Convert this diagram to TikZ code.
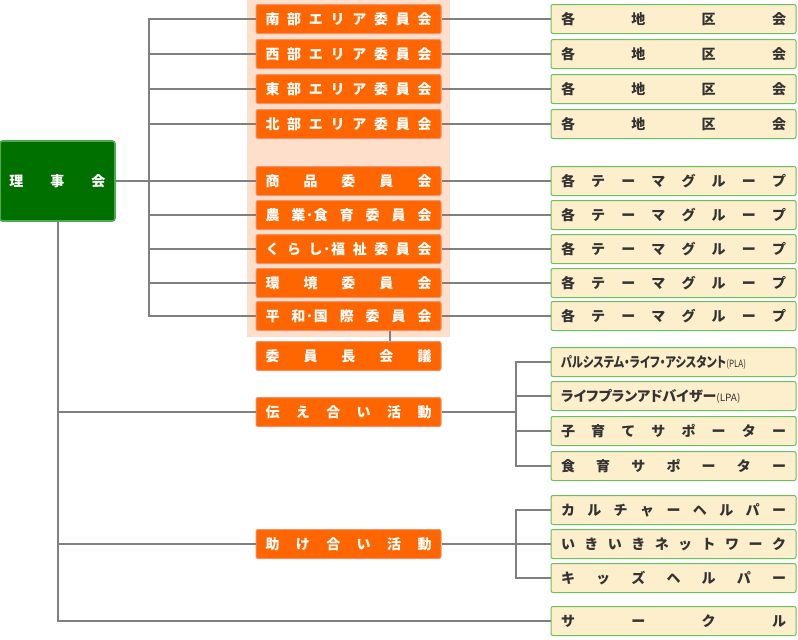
\documentclass[tikz,border=0pt]{standalone}
\usepackage{fontspec}
\setmainfont{Noto Sans CJK JP}
\newfontfamily\jpprop[RawFeature=+palt]{Noto Sans CJK JP}
\definecolor{orng}{HTML}{FF6600}
\definecolor{orngline}{HTML}{F4916A}
\definecolor{peach}{HTML}{FDDFCC}
\definecolor{drkgreen}{HTML}{007000}
\definecolor{grnline}{HTML}{4FA94F}
\definecolor{cream}{HTML}{FDEFCB}
\definecolor{crmline}{HTML}{6ABF5E}
\definecolor{linkgray}{HTML}{808080}
\definecolor{txtgray}{HTML}{333333}
\newcommand\otxt[1]{\makebox[124.5pt][s]{#1}}
\newcommand\ctxt[1]{\makebox[168.75pt][s]{#1}}
\begin{document}
\begin{tikzpicture}[x=0.75pt,y=-0.75pt,
    font=\bfseries\fontsize{10.5}{12}\selectfont,
    orgbox/.style={draw=orngline,line width=0.75pt,fill=orng,text=white,rounded corners=1.5pt,
      minimum width=138.75pt,minimum height=21.75pt,inner sep=0pt},
    crmbox/.style={draw=crmline,line width=0.75pt,fill=cream,text=txtgray,rounded corners=1.5pt,
      minimum width=183.75pt,minimum height=21.75pt,inner sep=0pt},
    link/.style={draw=linkgray,line width=1.5pt}]
    \useasboundingbox (0,0) rectangle (798,639);
    \fill[peach] (247,0) rectangle (450,337);

    \node[draw=grnline,line width=1.2pt,fill=drkgreen,text=white,rounded corners=2pt,
      minimum width=86.25pt,minimum height=60pt,inner sep=0pt] (rijikai) at (57.5,181)
      {\makebox[72pt][s]{理\hfill 事\hfill 会}};

    \node[orgbox] (minami) at (348.5,19) {\otxt{南\hfill 部\hfill エ\hfill リ\hfill ア\hfill 委\hfill 員\hfill 会}};
    \node[orgbox] (nishi) at (348.5,54) {\otxt{西\hfill 部\hfill エ\hfill リ\hfill ア\hfill 委\hfill 員\hfill 会}};
    \node[orgbox] (higashi) at (348.5,89) {\otxt{東\hfill 部\hfill エ\hfill リ\hfill ア\hfill 委\hfill 員\hfill 会}};
    \node[orgbox] (kita) at (348.5,124) {\otxt{北\hfill 部\hfill エ\hfill リ\hfill ア\hfill 委\hfill 員\hfill 会}};
    \node[orgbox] (shohin) at (348.5,181) {\otxt{商\hfill 品\hfill 委\hfill 員\hfill 会}};
    \node[orgbox] (nogyo) at (348.5,215) {\otxt{農\hfill 業·食\hfill 育\hfill 委\hfill 員\hfill 会}};
    \node[orgbox] (kurashi) at (348.5,249) {\otxt{く\hfill ら\hfill し·福\hfill 祉\hfill 委\hfill 員\hfill 会}};
    \node[orgbox] (kankyo) at (348.5,283) {\otxt{環\hfill 境\hfill 委\hfill 員\hfill 会}};
    \node[orgbox] (heiwa) at (348.5,316) {\otxt{平\hfill 和·国\hfill 際\hfill 委\hfill 員\hfill 会}};
    \node[orgbox] (iinchou) at (348.5,356) {\otxt{委\hfill 員\hfill 長\hfill 会\hfill 議}};
    \node[orgbox] (tsutae) at (348.5,412) {\otxt{伝\hfill え\hfill 合\hfill い\hfill 活\hfill 動}};
    \node[orgbox] (tasuke) at (348.5,544) {\otxt{助\hfill け\hfill 合\hfill い\hfill 活\hfill 動}};

    \node[crmbox] (chiku1) at (673.5,19) {\ctxt{各\hfill 地\hfill 区\hfill 会}};
    \node[crmbox] (chiku2) at (673.5,54) {\ctxt{各\hfill 地\hfill 区\hfill 会}};
    \node[crmbox] (chiku3) at (673.5,89) {\ctxt{各\hfill 地\hfill 区\hfill 会}};
    \node[crmbox] (chiku4) at (673.5,124) {\ctxt{各\hfill 地\hfill 区\hfill 会}};
    \node[crmbox] (theme1) at (673.5,181) {\ctxt{各\hfill テ\hfill ー\hfill マ\hfill グ\hfill ル\hfill ー\hfill プ}};
    \node[crmbox] (theme2) at (673.5,215) {\ctxt{各\hfill テ\hfill ー\hfill マ\hfill グ\hfill ル\hfill ー\hfill プ}};
    \node[crmbox] (theme3) at (673.5,249) {\ctxt{各\hfill テ\hfill ー\hfill マ\hfill グ\hfill ル\hfill ー\hfill プ}};
    \node[crmbox] (theme4) at (673.5,283) {\ctxt{各\hfill テ\hfill ー\hfill マ\hfill グ\hfill ル\hfill ー\hfill プ}};
    \node[crmbox] (theme5) at (673.5,316) {\ctxt{各\hfill テ\hfill ー\hfill マ\hfill グ\hfill ル\hfill ー\hfill プ}};
    \node[crmbox] (pla) at (673.5,362) {\ctxt{\scalebox{0.8}[1]{\jpprop パルシステム・ライフ・アシスタント{\mdseries\fontsize{7.5}{8}\selectfont(PLA)}}\hfill}};
    \node[crmbox] (lpa) at (673.5,396) {\ctxt{\jpprop ライフプランアドバイザー{\mdseries\fontsize{7.5}{8}\selectfont(LPA)}\hfill}};
    \node[crmbox] (kosodate) at (673.5,431) {\ctxt{子\hfill 育\hfill て\hfill サ\hfill ポ\hfill ー\hfill タ\hfill ー}};
    \node[crmbox] (shokuiku) at (673.5,466) {\ctxt{食\hfill 育\hfill サ\hfill ポ\hfill ー\hfill タ\hfill ー}};
    \node[crmbox] (culture) at (673.5,510) {\ctxt{カ\hfill ル\hfill チ\hfill ャ\hfill ー\hfill ヘ\hfill ル\hfill パ\hfill ー}};
    \node[crmbox] (ikiiki) at (673.5,544) {\ctxt{い\hfill き\hfill い\hfill き\hfill ネ\hfill ッ\hfill ト\hfill ワ\hfill ー\hfill ク}};
    \node[crmbox] (kids) at (673.5,578) {\ctxt{キ\hfill ッ\hfill ズ\hfill ヘ\hfill ル\hfill パ\hfill ー}};
    \node[crmbox] (circle) at (673.5,621) {\ctxt{サ\hfill ー\hfill ク\hfill ル}};

    \coordinate (tk) at (149,0);
    \coordinate (br) at (516,0);
    \coordinate (lk) at (390,0);

    % left side
    \draw[link] (minami.west) -| (heiwa.west -| tk) -- (heiwa.west);
    \draw[link] (nishi.west -| tk) -- (nishi.west);
    \draw[link] (higashi.west -| tk) -- (higashi.west);
    \draw[link] (kita.west -| tk) -- (kita.west);
    \draw[link] (rijikai.east) -- (shohin.west);
    \draw[link] (nogyo.west -| tk) -- (nogyo.west);
    \draw[link] (kurashi.west -| tk) -- (kurashi.west);
    \draw[link] (kankyo.west -| tk) -- (kankyo.west);
    \draw[link] (rijikai.south) |- (circle.west);
    \draw[link] (rijikai.south |- tsutae.west) -- (tsutae.west);
    \draw[link] (rijikai.south |- tasuke.west) -- (tasuke.west);
    \draw[link] (heiwa.south -| lk) -- (iinchou.north -| lk);

    % right side
    \draw[link] (minami.east) -- (chiku1.west);
    \draw[link] (nishi.east) -- (chiku2.west);
    \draw[link] (higashi.east) -- (chiku3.west);
    \draw[link] (kita.east) -- (chiku4.west);
    \draw[link] (shohin.east) -- (theme1.west);
    \draw[link] (nogyo.east) -- (theme2.west);
    \draw[link] (kurashi.east) -- (theme3.west);
    \draw[link] (kankyo.east) -- (theme4.west);
    \draw[link] (heiwa.east) -- (theme5.west);
    \draw[link] (tsutae.east) -- (tsutae.east -| br);
    \draw[link] (pla.west) -| (shokuiku.west -| br) -- (shokuiku.west);
    \draw[link] (lpa.west -| br) -- (lpa.west);
    \draw[link] (kosodate.west -| br) -- (kosodate.west);
    \draw[link] (tasuke.east) -- (ikiiki.west);
    \draw[link] (culture.west) -| (kids.west -| br) -- (kids.west);
\end{tikzpicture}
\end{document}
